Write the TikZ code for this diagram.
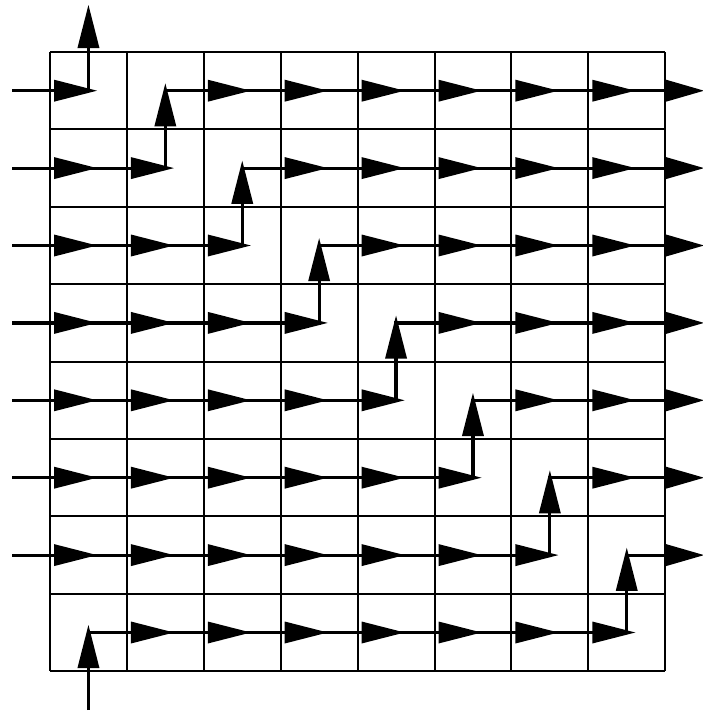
\documentclass[tikz,border=0pt]{standalone}
\begin{document}
\begin{tikzpicture}[x=1pt,y=-1pt,
  gridline/.style={line width=2pt},
  flow/.style={line width=3.2pt},
  headR/.pic={\fill (0,-11) -- (43,0) -- (0,11) -- cycle;},
  headRout/.pic={\fill (0,-11) -- (38,0) -- (0,11) -- cycle;},
  headU/.pic={\fill (-11,0) -- (0,-43) -- (11,0) -- cycle;}]
\useasboundingbox (0,0) rectangle (703,715);
\def\cw{76.9}
\def\ch{77.4}
% grid
\foreach \i in {0,...,8} {
  \draw[gridline] ({50+\cw*\i},52) -- ({50+\cw*\i},671.2);
  \draw[gridline] (50,{52+\ch*\i}) -- (665.2,{52+\ch*\i});
}
% named points
\foreach \r in {0,...,7} {
  \foreach \c in {0,...,7} {
    \coordinate (c-\r-\c) at ({50+\cw*(\c+0.5)},{52+\ch*(\r+0.5)});
  }
  \coordinate (in-\r) at (12,{52+\ch*(\r+0.5)});
  \coordinate (out-\r) at (668,{52+\ch*(\r+0.5)});
}
\coordinate (top) at ({50+\cw*0.5},46);
\coordinate (bot) at ({50+\cw*0.5},710);
% flow lines
\draw[flow] (in-0) -- (c-0-0) -- (top);
\foreach \r [evaluate=\r as \p using int(\r-1)] in {1,...,6} {
  \draw[flow] (in-\r) -- (c-\r-\r) -- (c-\p-\r) -- (out-\p);
}
\draw[flow] (bot) -- (c-7-0) -- (c-7-7) -- (c-6-7) -- (out-6);
% horizontal heads, input part
\foreach \r in {0,...,6} {
  \foreach \c in {0,...,\r} {
    \pic at ({50+\cw*\c+4},{52+\ch*(\r+0.5)}) {headR};
  }
}
\foreach \c in {1,...,7} {
  \pic at ({50+\cw*\c+4},{52+\ch*7.5}) {headR};
}
% horizontal heads, output part
\foreach \r in {0,...,5} {
  \pgfmathtruncatemacro\s{\r+2}
  \foreach \c in {\s,...,7} {
    \pic at ({50+\cw*\c+4},{52+\ch*(\r+0.5)}) {headR};
  }
}
\foreach \r in {0,...,6} {
  \pic at (666,{52+\ch*(\r+0.5)}) {headRout};
}
% vertical heads
\foreach \r in {1,...,6} {
  \pic at ({50+\cw*(\r+0.5)},{52+\ch*\r-3}) {headU};
}
\pic at ({50+\cw*7.5},{52+\ch*7-3}) {headU};
\pic at ({50+\cw*0.5},48) {headU};
\pic at ({50+\cw*0.5},668) {headU};
\end{tikzpicture}
\end{document}
